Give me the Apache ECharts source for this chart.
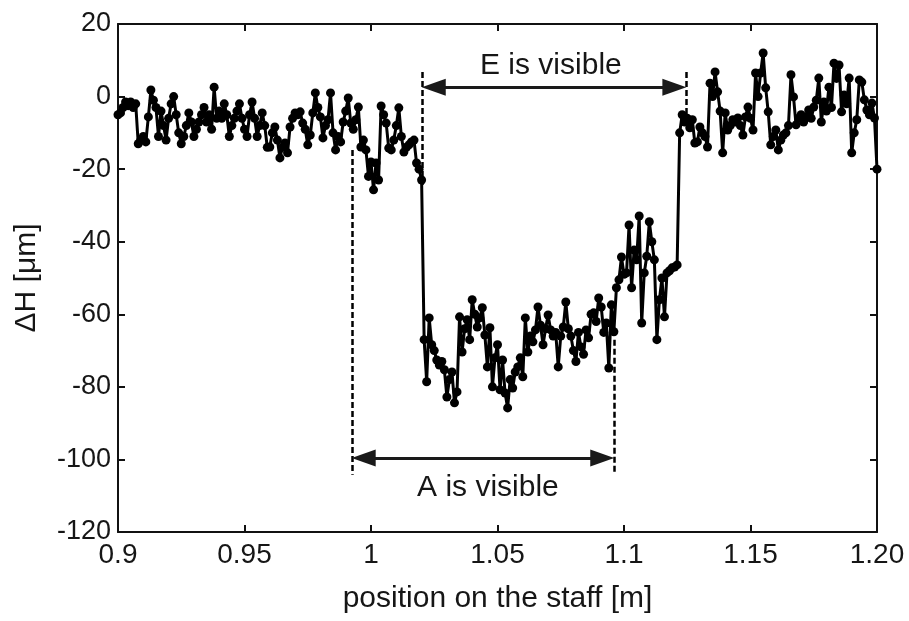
<!DOCTYPE html>
<html>
<head>
<meta charset="utf-8">
<script src="https://cdn.jsdelivr.net/npm/echarts@6/dist/echarts.min.js"></script>
<style>
html,body{margin:0;padding:0;background:#fff;}
#chart{width:909px;height:621px;}
</style>
</head>
<body>
<div id="chart"></div>
<script>
// Position on the staff [m]: sampling start and step
const xStart = 0.9;
const xStep = 0.001;
// ΔH [μm] values, one per sample
const deltaH = [
 -5,-4.5,-3,-1.5,-2.5,-1.5,-3,-2,-13,-12,
 -11,-12.5,-5.6,1.8,-1,-3,-11,-4,-8,-12,
 -6,-2,0,-5,-10,-13,-11,-8,-4.5,-7,
 -11,-9,-7,-5,-3,-7,-5,-9,2.6,-6,
 -4,-6,-2,-5,-11,-8,-6,-4,-2,-6,
 -9,-11,-5,-1.5,-6,-11,-8,-4.5,-8,-14,
 -13.9,-10,-8.4,-12,-16.9,-14,-12.8,-15.5,-8.4,-6,
 -4.5,-5,-4.2,-7.3,-9,-13.3,-10.6,-4.5,1,-3,
 -5.6,-11.4,-8,-6.4,1,-10,-14.7,-11,-12.5,-7,
 -4,-0.4,-7.3,-9,-6.4,-2.9,-13.9,-12,-14.7,-22,
 -18,-25.7,-18.3,-23,-2.6,-5,-7.3,-14.2,-14.7,-12,
 -8,-3.1,-11,-15.3,-14,-13.3,-12.5,-12,-18.3,-20,
 -23,-67,-78.6,-61,-68.4,-70,-72.6,-74,-73,-75.3,
 -82.8,-78,-75.9,-84.4,-81.4,-60.7,-70.4,-64,-61.5,-67,
 -56,-60,-63.5,-61,-58.2,-65.7,-74.5,-63.7,-80,-72,
 -68.4,-80.8,-72.6,-81.7,-85.8,-78,-80.3,-75.9,-74.5,-72,
 -77.2,-61,-70.4,-66,-67.6,-64.3,-58,-63,-68.4,-64,
 -60.2,-64.3,-66,-65,-74.5,-66,-63.5,-56.6,-64,-66,
 -70,-73,-65,-69,-71,-64.3,-66.5,-60,-59.6,-62,
 -55.5,-58,-65,-62.4,-74.8,-57.4,-64.8,-52.7,-50.5,-44.2,
 -49,-48.6,-35.4,-52.7,-42.3,-45,-32.9,-62.4,-48.6,-44,
 -34.5,-40,-45,-67,-56,-50,-60.7,-48.6,-48,-47.2,
 -47,-46.4,-10,-5,-7,-6,-8.6,-6.4,-12.8,-12.5,
 -8.4,-10,-11,-13.9,3.7,0,6.8,1.3,-4,-15.5,
 -4.5,-9.2,-8,-6.4,-7,-5.9,-8,-10.6,-5.6,-2.9,
 -6,-9.2,6.5,0,6.5,12,2.4,-4.2,-13.3,-11,
 -9.2,-14.7,-12,-10.6,-10,-8,6,-0.1,-7.8,-6,
 -5,-7,-5.6,-3.7,-6,-2.9,-1,5.1,-7,-1.5,
 -4,2.6,-3,9.2,5,8.7,-4.2,0.4,-2,5.1,
 -15.5,-10,-6.4,4.6,4,-0.9,-3.7,-5,-1.8,-5.9,
 -20
];
// Tick labels
const xTickLabels = {90:'0.9',95:'0.95',100:'1',105:'1.05',110:'1.1',115:'1.15',120:'1.20'};
// Annotation boundaries (m) and levels (μm)
const eStart = 1.0202, eEnd = 1.1245, eArrowY = 2.6;
const aStart = 0.9925, aEnd = 1.096, aArrowY = -99.6;
const arrowInset = 0.0046; // half an arrow head, in metres, so the tips touch the dashed lines
const annotations = [
  {text:'E is visible', x:1.0711, y:8.4},
  {text:'A is visible', x:1.0462, y:-107.8}
];

const seriesData = deltaH.map((v,i)=>[+(xStart + i*xStep).toFixed(4), v]);

const font = 'Liberation Sans, Arial, sans-serif';
const axisColor = '#111';
const textColor = '#161616';
const chart = echarts.init(document.getElementById('chart'), null, {renderer:'canvas'});
const tickCommon = {inside:true, length:7, lineStyle:{color:axisColor, width:2}};
const dash = {type:[6,3], width:2.5, color:'#000'};
const arrowLine = {type:'solid', width:3, color:'#1a1a1a'};
chart.setOption({
  animation:false,
  backgroundColor:'#fff',
  grid:{left:118, right:32, top:24, bottom:89},
  xAxis:[{
    type:'value', min:0.9, max:1.2, interval:0.05, position:'bottom',
    axisLine:{show:true, onZero:false, lineStyle:{color:axisColor, width:2}},
    axisTick:tickCommon, splitLine:{show:false},
    axisLabel:{color:textColor, fontSize:28, fontFamily:font, margin:9,
      formatter:v=>xTickLabels[Math.round(v*100)] ?? ''},
    name:'position on the staff [m]', nameLocation:'middle', nameGap:52,
    nameTextStyle:{color:textColor, fontSize:30, fontFamily:font}
  },{
    type:'value', min:0.9, max:1.2, interval:0.05, position:'top',
    axisLine:{show:true, onZero:false, lineStyle:{color:axisColor, width:2}},
    axisTick:tickCommon, axisLabel:{show:false}, splitLine:{show:false}
  }],
  yAxis:[{
    type:'value', min:-120, max:20, interval:20, position:'left',
    axisLine:{show:true, onZero:false, lineStyle:{color:axisColor, width:2}},
    axisTick:tickCommon, splitLine:{show:false},
    axisLabel:{color:textColor, fontSize:27, fontFamily:font, margin:7},
    name:'ΔH [μm]', nameLocation:'middle', nameGap:76, nameRotate:90,
    nameTextStyle:{color:textColor, fontSize:30, fontFamily:font}
  },{
    type:'value', min:-120, max:20, interval:20, position:'right',
    axisLine:{show:true, onZero:false, lineStyle:{color:axisColor, width:2}},
    axisTick:tickCommon, axisLabel:{show:false}, splitLine:{show:false}
  }],
  series:[{
    type:'line', data:seriesData, xAxisIndex:0, yAxisIndex:0,
    symbol:'circle', symbolSize:9, showAllSymbol:true,
    lineStyle:{color:'#000', width:3}, itemStyle:{color:'#000'},
    z:3
  },{
    type:'scatter', xAxisIndex:0, yAxisIndex:0, symbolSize:0,
    itemStyle:{color:'#000', opacity:1},
    data:annotations.map(a=>({value:[a.x,a.y], label:{show:true, formatter:a.text}})),
    label:{position:'inside', color:textColor, fontSize:30, fontFamily:font, textBorderWidth:0, opacity:1},
    markLine:{
      silent:true, animation:false,
      label:{show:false},
      data:[
        [{coord:[aStart,-14.7], symbol:'none', lineStyle:dash},{coord:[aStart,-104.2], symbol:'none'}],
        [{coord:[eStart,6.8], symbol:'none', lineStyle:dash},{coord:[eStart,-24.4], symbol:'none'}],
        [{coord:[aEnd,-67], symbol:'none', lineStyle:dash},{coord:[aEnd,-104.2], symbol:'none'}],
        [{coord:[eEnd,6.8], symbol:'none', lineStyle:dash},{coord:[eEnd,-6.4], symbol:'none'}],
        [{coord:[eStart+arrowInset,eArrowY], symbol:'triangle', symbolSize:[17,24], lineStyle:arrowLine},{coord:[eEnd-arrowInset,eArrowY], symbol:'triangle', symbolSize:[17,24]}],
        [{coord:[aStart+arrowInset,aArrowY], symbol:'triangle', symbolSize:[17,24], lineStyle:arrowLine},{coord:[aEnd-arrowInset,aArrowY], symbol:'triangle', symbolSize:[17,24]}]
      ],
      itemStyle:{color:'#1a1a1a'}
    }
  }]
});
</script>
</body>
</html>
